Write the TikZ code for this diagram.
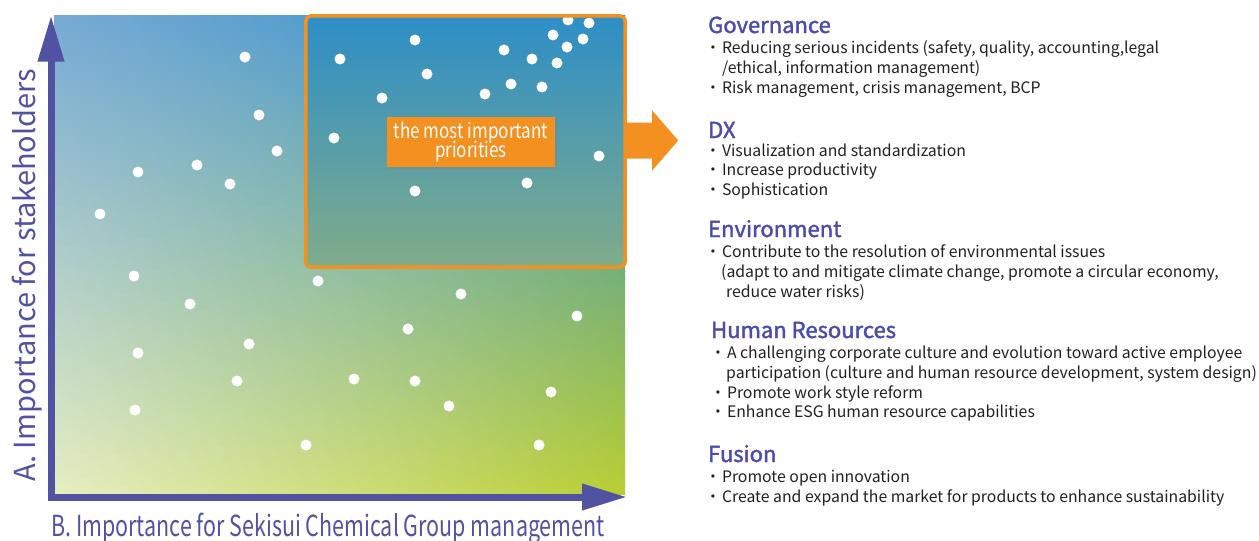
\documentclass[tikz,border=0pt]{standalone}
\usepackage{fontspec}
\setmainfont{Noto Sans CJK JP}
\newfontfamily\headfont[FakeBold=1.8]{Noto Sans CJK JP}
\newfontfamily\narrowfont[FakeStretch=0.74]{Noto Sans CJK JP}
\newfontfamily\priofont[FakeStretch=0.81]{Noto Sans CJK JP}
\usetikzlibrary{positioning,arrows.meta,shadows}

\definecolor{axisblue}{RGB}{82,82,163}
\definecolor{headblue}{RGB}{76,76,170}
\definecolor{prioorange}{RGB}{243,144,32}
\definecolor{bodygray}{RGB}{35,31,32}
\definecolor{tlblue}{RGB}{118,170,212}
\definecolor{trblue}{RGB}{42,141,200}
\definecolor{blcream}{RGB}{230,238,194}
\definecolor{brgreen}{RGB}{184,206,50}
\definecolor{coretop}{RGB}{45,142,199}
\definecolor{corebottom}{RGB}{128,172,138}

\newcommand{\bul}{\strut・\kern1pt}

\begin{document}
\begin{tikzpicture}[x=1pt,y=-1pt,
dot/.style={circle,fill=white,inner sep=0pt,minimum size=11pt},
head/.style={font=\headfont\fontsize{22}{24}\selectfont,
  text=headblue,inner sep=0pt,anchor=base west},
items/.style={font=\fontsize{15.8}{19.6}\selectfont,
  text=bodygray,align=left,inner sep=0pt},
axis/.style={draw=axisblue,line width=7pt},
axislabel/.style={text=axisblue,inner sep=0pt,anchor=base}
]
\useasboundingbox (0,0) rectangle (1259,541);

% materiality plot, blended row by row
\foreach \k in {0,...,59} {
  \pgfmathsetmacro\p{100-100*(\k+0.5)/60}
  \fill [left color=tlblue!\p!blcream,right color=trblue!\p!brgreen]
    (54,{15.5+\k*7.975}) rectangle (625,{15.5+\k*7.975+8.3});
}

\node (core) [minimum width=319pt,minimum height=251pt,inner sep=0pt,
  rounded corners=6pt,top color=coretop,bottom color=corebottom] at (465.5,141.5) {};

\foreach \px/\py [count=\i] in {245/57,340/59,415/40,427/74,382/98,485/94,504/50,
  532/59,553/35,568/20,589/23,567/47,583/39,557/63,511/84,542/87,259/115,334/138,
  277/151,197/165,138/172,230/184,100/214,415/191,527/183,599/156,134/276,318/281,
  190/304,461/294,408/329,577/316,138/353,249/344,237/381,354/379,415/381,449/406,
  551/392,135/410,306/445,539/445}
  \node (d\i) [dot] at (\px,\py) {};

\draw [prioorange,line width=3.5pt,rounded corners=6pt] (core.north west) rectangle (core.south east);

\node (prio) [fill=prioorange,text=white,minimum width=168pt,minimum height=50pt,
  align=center,font=\priofont\fontsize{21}{20}\selectfont,
  drop shadow={opacity=0.35,shadow xshift=1.5pt,shadow yshift=-1.5pt}] at (471,142)
  {the most important\\[-3pt]priorities};

\fill [prioorange] (core.east) ++(0,-19) -- ++(27,0) -- ++(0,-12) -- ++(26,30)
  -- ++(-26,30) -- ++(0,-12) -- ++(-27,0) -- cycle;

% axes
\coordinate (origin) at (51,497);
\coordinate (ytip) at (51,15.5);
\coordinate (xtip) at (627,497);
\draw [axis,{Triangle[length=46pt,width=25pt]}-{Triangle[length=45pt,width=25pt]}]
  (ytip) -- (origin) -- (xtip);

\node (ylab) [axislabel,rotate=90,font=\fontsize{29}{30}\selectfont] at (35,275)
  {A. Importance for stakeholders};
\node (xlab) [axislabel,font=\narrowfont\fontsize{29}{30}\selectfont] at (328,536)
  {B. Importance for Sekisui Chemical Group management};

% themes
\node (gov) [head] at (708,33) {Governance};
\node (govtxt) [items,below=6.5pt of gov.south west,anchor=north west,xshift=-3pt]
  {\bul Reducing serious incidents (safety, quality, accounting,legal\\
  \hspace{17pt}/ethical, information management)\\
  \bul Risk management, crisis management, BCP};

\node (dx) [head] at (708,138) {DX};
\node (dxtxt) [items,below=4pt of dx.south west,anchor=north west,xshift=-3pt]
  {\bul Visualization and standardization\\
  \bul Increase productivity\\
  \bul Sophistication};

\node (env) [head] at (708,237) {Environment};
\node (envtxt) [items,below=6.5pt of env.south west,anchor=north west,xshift=-3pt]
  {\bul Contribute to the resolution of environmental issues\\
  \hspace{16pt}(adapt to and mitigate climate change, promote a circular economy,\\
  \hspace{21pt}reduce water risks)\strut};

\node (hr) [head] at (711,338) {Human Resources};
\node (hrtxt) [items,below=6.5pt of hr.south west,anchor=north west,xshift=-1pt]
  {\bul A challenging corporate culture and evolution toward active employee\\
  \hspace{16pt}participation (culture and human resource development, system design)\\
  \bul Promote work style reform\\
  \bul Enhance ESG human resource capabilities};

\node (fus) [head] at (708,462) {Fusion};
\node (fustxt) [items,below=6.5pt of fus.south west,anchor=north west,xshift=-3pt]
  {\bul Promote open innovation\\
  \bul Create and expand the market for products to enhance sustainability};

\end{tikzpicture}
\end{document}
